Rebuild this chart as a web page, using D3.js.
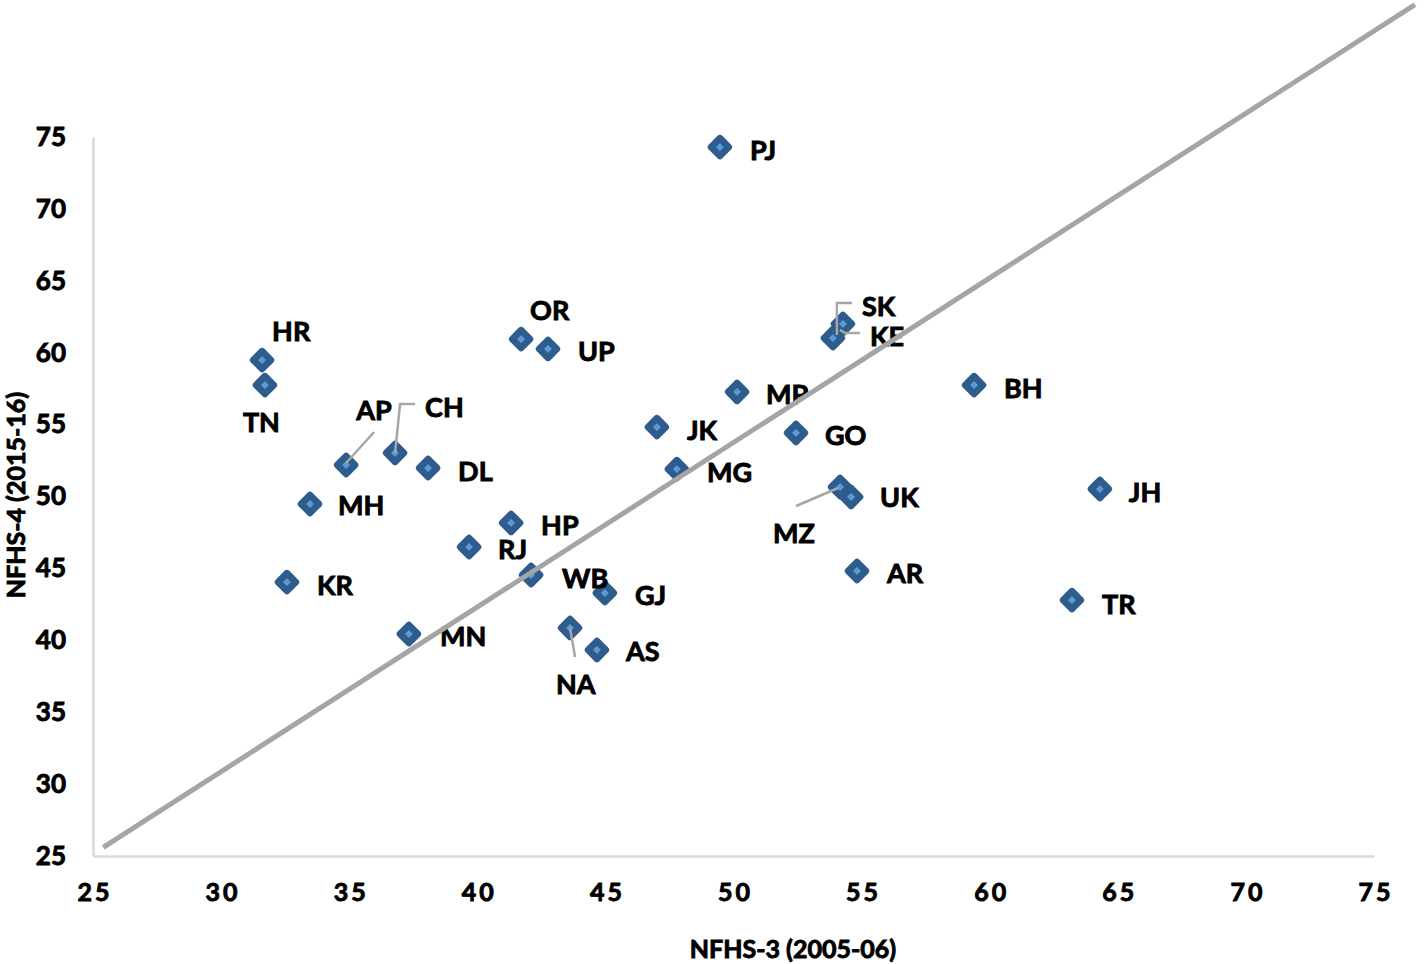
<!DOCTYPE html>
<html><head><meta charset="utf-8">
<script src="https://cdnjs.cloudflare.com/ajax/libs/d3/7.8.5/d3.min.js"></script>
<style>
html,body{margin:0;padding:0;background:#fff;}
svg{display:block;}
</style></head>
<body>
<svg id="chart" width="1424" height="964"></svg>
<script>
// ---- data ----
const states = ["PJ","HR","TN","AP","CH","DL","MH","KR","MN","RJ","HP","OR","UP","WB","GJ","NA","AS","JK","MG","MP","GO","SK","KE","MZ","UK","AR","BH","JH","TR"];
const nfhs3  = [49.47,31.60,31.71,34.88,36.79,38.08,33.47,32.57,37.33,39.68,41.32,41.71,42.76,42.10,44.98,43.62,44.67,47.01,47.79,50.14,52.44,53.88,54.27,54.16,54.59,54.82,59.39,64.30,63.21];
const nfhs4  = [74.30,59.49,57.75,52.19,53.03,51.98,49.48,44.05,40.44,46.49,48.16,60.95,60.26,44.54,43.29,40.86,39.33,54.83,51.91,57.27,54.42,61.02,62.00,50.66,49.97,44.82,57.75,50.52,42.80];
const xTicks = [25,30,35,40,45,50,55,60,65,70,75];
const yTicks = [25,30,35,40,45,50,55,60,65,70,75];
const refLineX = [25.4, 76.6];
const refLineY = [25.6, 84.2];
const xTitle = "NFHS-3 (2005-06)";
const yTitle = "NFHS-4 (2015-16)";

// ---- layout (label placement relative to marker, px) ----
const labelLayout = {
  PJ:{dx:30,dy:2}, HR:{dx:10,dy:-30}, TN:{dx:-22,dy:36},
  AP:{dx:10,dy:-56,leader:[[0,-2],[28,-33]]},
  CH:{dx:30,dy:-46,leader:[[0,0],[5,-49],[20,-49]]},
  DL:{dx:30,dy:2}, MH:{dx:28,dy:1}, KR:{dx:30,dy:2}, MN:{dx:31,dy:2},
  RJ:{dx:29,dy:2}, HP:{dx:30,dy:2}, OR:{dx:9,dy:-30}, UP:{dx:30,dy:2},
  WB:{dx:31,dy:2}, GJ:{dx:30,dy:2},
  NA:{dx:-14,dy:56,leader:[[0,0],[5,29]]},
  AS:{dx:29,dy:1}, JK:{dx:30,dy:2}, MG:{dx:30,dy:2}, MP:{dx:29,dy:2}, GO:{dx:29,dy:2},
  SK:{dx:29,dy:-33,leader:[[4,-3],[4,-35],[19,-35]]},
  KE:{dx:27,dy:12,leader:[[-3,6],[2,9],[17,9]]},
  MZ:{dx:-67,dy:45,leader:[[-2,1],[-44,19]]},
  UK:{dx:29,dy:0}, AR:{dx:30,dy:2}, BH:{dx:30,dy:2}, JH:{dx:29,dy:2}, TR:{dx:30,dy:3}
};

const FONT = "Lato, 'Open Sans', 'Liberation Sans', sans-serif";
const svg = d3.select("#chart");
const x = d3.scaleLinear().domain([25,75]).range([93,1374]);
const y = d3.scaleLinear().domain([25,75]).range([856,137]);

function heavy(sel){ return sel.attr("stroke","#000").attr("stroke-width",0.9).attr("paint-order","stroke"); }

// axes
const xAxis = svg.append("g").attr("transform","translate(0,856)")
  .call(d3.axisBottom(x).tickValues(xTicks).tickSize(0).tickPadding(27));
xAxis.select(".domain").attr("stroke","#d9d9d9").attr("stroke-width",2.5);
heavy(xAxis.selectAll("text").attr("font-family",FONT).attr("font-weight",700)
  .attr("font-size",25).attr("fill","#000").attr("letter-spacing","3px").attr("dx","1.5px"));

const yAxis = svg.append("g").attr("transform","translate(93,0)")
  .call(d3.axisLeft(y).tickValues(yTicks).tickSize(0).tickPadding(27));
yAxis.select(".domain").attr("stroke","#d9d9d9").attr("stroke-width",2.5);
heavy(yAxis.selectAll("text").attr("font-family",FONT).attr("font-weight",700)
  .attr("font-size",26).attr("fill","#000"));

// titles
heavy(svg.append("text").attr("x",793).attr("y",948).attr("text-anchor","middle")
  .attr("dominant-baseline","central").attr("font-family",FONT).attr("font-weight",700)
  .attr("font-size",25).text(xTitle));
heavy(svg.append("text").attr("transform","translate(15,495) rotate(-90)").attr("text-anchor","middle")
  .attr("dominant-baseline","central").attr("font-family",FONT).attr("font-weight",700)
  .attr("font-size",25).text(yTitle));

const pts = states.map((s,i)=>({s, px:x(nfhs3[i]), py:y(nfhs4[i])}));

// markers
const r = 8.8;
svg.append("g").selectAll("path").data(pts).join("path")
  .attr("d", d=>`M${d.px},${d.py-r}L${d.px+r},${d.py}L${d.px},${d.py+r}L${d.px-r},${d.py}Z`)
  .attr("fill","#5b9bd5").attr("stroke","#2e5c8c").attr("stroke-width",6.8)
  .attr("stroke-linejoin","round");

// leader lines (drawn on top of markers)
pts.forEach(p=>{
  const L = labelLayout[p.s];
  if(L && L.leader){
    svg.append("path")
      .attr("d", d3.line()(L.leader.map(([a,b])=>[p.px+a,p.py+b])))
      .attr("fill","none").attr("stroke","#a6a6a6").attr("stroke-width",2.5);
  }
});

// labels
heavy(svg.append("g").selectAll("text").data(pts).join("text")
  .attr("x", d=>d.px + labelLayout[d.s].dx)
  .attr("y", d=>d.py + labelLayout[d.s].dy)
  .attr("dominant-baseline","central")
  .attr("font-family",FONT).attr("font-weight",700).attr("font-size",27)
  .attr("fill","#000").text(d=>d.s));

// reference line
svg.append("line")
  .attr("x1",x(refLineX[0])).attr("y1",y(refLineY[0]))
  .attr("x2",x(refLineX[1])).attr("y2",y(refLineY[1]))
  .attr("stroke","#a5a5a5").attr("stroke-width",5);
</script>
</body></html>
